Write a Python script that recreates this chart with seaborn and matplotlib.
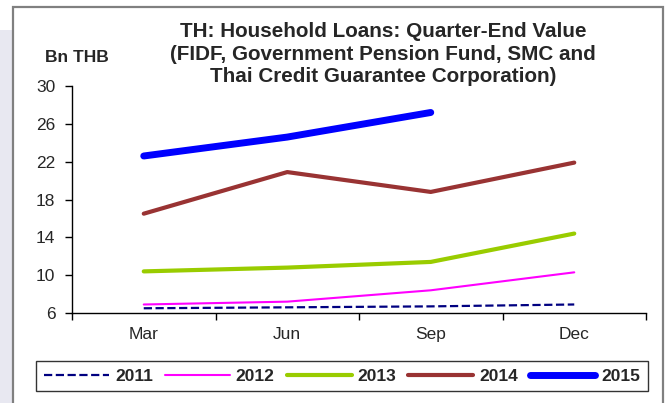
import numpy as np
import pandas as pd
import matplotlib
matplotlib.use("Agg")
import matplotlib.pyplot as plt
import seaborn as sns
from matplotlib.patches import Rectangle

sns.set_style("ticks")
plt.rcParams['font.family'] = ['Liberation Sans', 'DejaVu Sans']

# Data (Bn THB, quarter-end)
quarters = ["Mar", "Jun", "Sep", "Dec"]
years = ["2011", "2012", "2013", "2014", "2015"]
v2011 = [6.5, 6.6, 6.7, 6.9]
v2012 = [6.9, 7.2, 8.4, 10.3]
v2013 = [10.4, 10.8, 11.4, 14.4]
v2014 = [16.5, 20.9, 18.8, 21.9]
v2015 = [22.6, 24.6, 27.2, np.nan]

colors = ["#000080", "#ff00ff", "#99cc00", "#993333", "#0000ff"]
widths = [1.6, 1.5, 3.0, 3.0, 5.0]
styles = ["--", "-", "-", "-", "-"]

title_lines = ["TH: Household Loans: Quarter-End Value",
               "(FIDF, Government Pension Fund, SMC and",
               "Thai Credit Guarantee Corporation)"]

df = pd.DataFrame({"quarter": quarters, "2011": v2011, "2012": v2012,
                   "2013": v2013, "2014": v2014, "2015": v2015})
long = df.melt(id_vars="quarter", var_name="year", value_name="value")

W, H = 670, 403
fig = plt.figure(figsize=(6.7, 4.03), dpi=100)
ax = fig.add_axes([72 / W, 1 - 313 / H, (646 - 72) / W, (313 - 86) / H])

# background decoration: lavender strip and grey frame
fig.patches.append(Rectangle((0, 0), 12 / W, 1 - 30 / H, transform=fig.transFigure,
                             facecolor="#e8e8f1", edgecolor="none", zorder=0))
fig.patches.append(Rectangle((13 / W, -0.02), 650 / W, 1 - 7 / H + 0.02,
                             transform=fig.transFigure, facecolor="none",
                             edgecolor="#808080", linewidth=1.6, zorder=1))

handles = []
for y, c, w, s in zip(years, colors, widths, styles):
    sub = long[long["year"] == y]
    sns.lineplot(data=sub, x="quarter", y="value", ax=ax, color=c, linewidth=w,
                 linestyle=s, sort=False, legend=False)
    ln = ax.get_lines()[-1]
    ln.set_solid_capstyle("round")
    ln.set_dash_capstyle("butt")
    ln.set_label(y)
    handles.append(ln)

ax.set_xlim(-0.5, 3.5)
ax.set_ylim(6, 30)
ax.set_yticks(np.arange(6, 31, 4))
ax.set_xticks(np.arange(-0.5, 4, 1))
ax.set_xticklabels([])
ax.set_xticks(np.arange(4), minor=True)
ax.set_xticklabels(quarters, minor=True)
ax.tick_params(axis="x", which="major", length=5, width=1, color="black", direction="out")
ax.tick_params(axis="x", which="minor", length=0, pad=10, labelsize=12.5)
ax.tick_params(axis="y", length=5, width=1, color="black", direction="out", pad=7, labelsize=12.5)
ax.set_xlabel("")
ax.set_ylabel("")
sns.despine(ax=ax)
for sp in ["left", "bottom"]:
    ax.spines[sp].set_color("black")
    ax.spines[sp].set_linewidth(1)

fig.text(77 / W, 1 - 62 / H, "Bn THB", ha="center", va="baseline",
         fontsize=12.5, fontweight="bold")
for txt, base in zip(title_lines, [37, 60, 82]):
    fig.text(383 / W, 1 - base / H, txt, ha="center", va="baseline",
             fontsize=14.9, fontweight="bold")

leg = fig.legend(handles=handles, labels=years, loc="center", ncol=5,
                 bbox_to_anchor=(342 / W, 1 - 376 / H),
                 frameon=True, fancybox=False, handlelength=3.74, handletextpad=0.35,
                 columnspacing=0.69, borderpad=0.45, borderaxespad=0,
                 prop={"weight": "bold", "size": 12.5})
leg.get_frame().set_edgecolor("black")
leg.get_frame().set_linewidth(1)

fig.savefig("out.png", dpi=100)
